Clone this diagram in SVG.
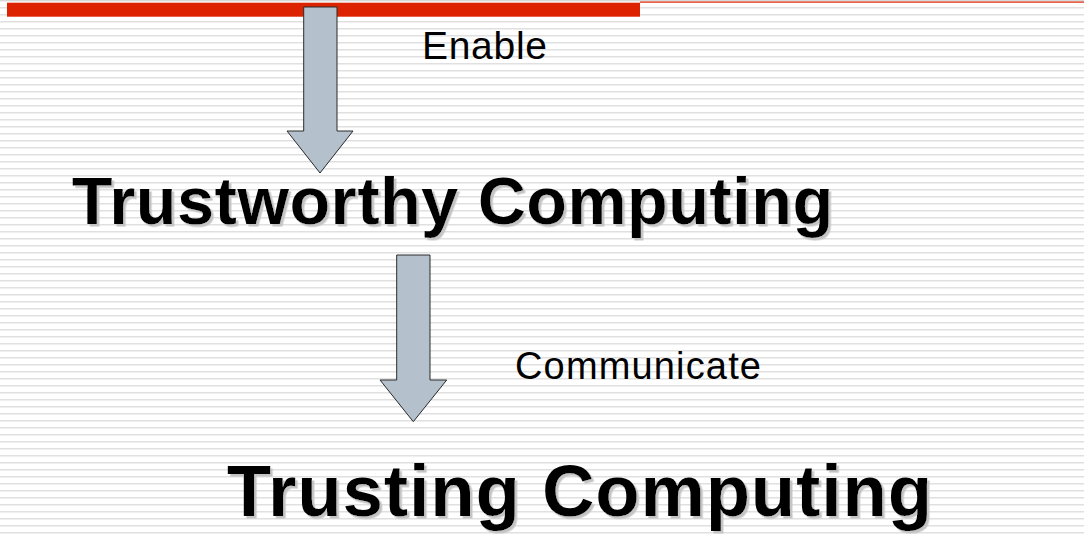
<svg xmlns="http://www.w3.org/2000/svg" width="1084" height="535" viewBox="0 0 1084 535">
  <defs>
    <pattern id="stripes" patternUnits="userSpaceOnUse" x="0" y="0" width="1084" height="7">
      <rect x="0" y="0" width="1084" height="1.5" fill="#e0e0e0"/>
    </pattern>
    <filter id="shadow" x="-5%" y="-20%" width="110%" height="140%">
      <feDropShadow dx="2.5" dy="2.5" stdDeviation="0.7" flood-color="#c4c4c4" flood-opacity="1"/>
    </filter>
  </defs>
  <style>
    .arrow { fill: #b4c0cc; stroke: #2a2a2a; stroke-width: 1; }
    .label { font-family: "Liberation Sans", Arial, sans-serif; fill: #000; }
    .title { font-family: "Liberation Sans", Arial, sans-serif; font-weight: bold; fill: #000; filter: url(#shadow); }
  </style>
  <rect x="0" y="0" width="1084" height="535" fill="#ffffff"/>
  <rect x="0" y="0" width="1084" height="535" fill="url(#stripes)"/>
  <g id="header">
    <rect x="0" y="0" width="1084" height="1" fill="#d8d8d8"/>
    <rect x="640" y="1.5" width="444" height="1.2" fill="#dd2200"/>
    <rect x="7" y="2.7" width="633" height="14" fill="#dd2200"/>
  </g>
  <g id="connectors">
    <g id="arrow-enable">
      <polygon class="arrow" points="303.7,7 337,7 337,131 353,131 320,173 287,131 303.7,131"/>
      <text class="label" x="422" y="59" font-size="39" textLength="125" lengthAdjust="spacing">Enable</text>
    </g>
    <g id="arrow-communicate">
      <polygon class="arrow" points="396.7,255 430,255 430,380 446.7,380 413.3,421.7 380,380 396.7,380"/>
      <text class="label" x="515" y="379" font-size="38" textLength="246" lengthAdjust="spacing">Communicate</text>
    </g>
  </g>
  <g id="node-trustworthy">
    <text class="title" x="72" y="224" font-size="66" textLength="761" lengthAdjust="spacing">Trustworthy Computing</text>
  </g>
  <g id="node-trusting">
    <text class="title" x="227" y="516" font-size="72" textLength="705" lengthAdjust="spacing">Trusting Computing</text>
  </g>
</svg>
